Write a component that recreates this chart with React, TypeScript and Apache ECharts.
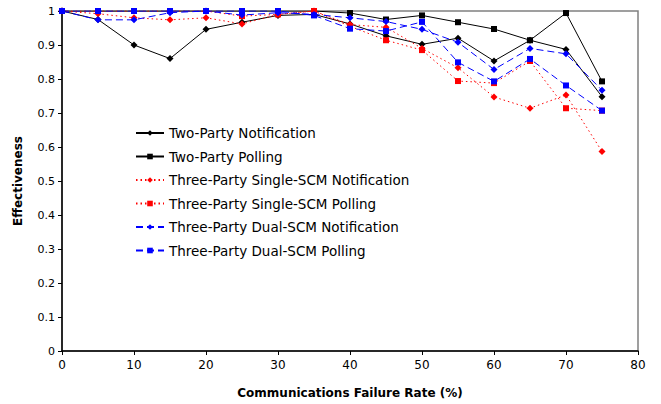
import React, { useEffect, useRef } from "react";
import * as echarts from "echarts";

const failureRates = [0, 5, 10, 15, 20, 25, 30, 35, 40, 45, 50, 55, 60, 65, 70, 75];

const twoPartyNotification = [1.0, 0.975, 0.9, 0.86, 0.946, 0.967, 0.987, 0.99, 0.962, 0.927, 0.902, 0.92, 0.853, 0.914, 0.887, 0.748];
const twoPartyPolling = [1.0, 1.0, 1.0, 1.0, 1.0, 1.0, 1.0, 1.0, 0.994, 0.975, 0.987, 0.967, 0.947, 0.914, 0.994, 0.793];
const singleScmNotification = [1.0, 0.992, 0.98, 0.974, 0.98, 0.962, 0.99, 1.0, 0.96, 0.952, 0.89, 0.833, 0.747, 0.714, 0.753, 0.587];
const singleScmPolling = [1.0, 1.0, 1.0, 1.0, 1.0, 0.985, 0.99, 1.0, 0.955, 0.914, 0.885, 0.794, 0.788, 0.853, 0.714, 0.707];
const dualScmNotification = [1.0, 0.974, 0.974, 0.995, 1.0, 0.988, 0.995, 0.99, 0.98, 0.969, 0.946, 0.908, 0.828, 0.89, 0.874, 0.767];
const dualScmPolling = [1.0, 1.0, 1.0, 1.0, 1.0, 1.0, 1.0, 0.987, 0.948, 0.941, 0.968, 0.849, 0.793, 0.859, 0.781, 0.707];

const seriesNames = [
  "Two-Party Notification",
  "Two-Party Polling",
  "Three-Party Single-SCM Notification",
  "Three-Party Single-SCM Polling",
  "Three-Party Dual-SCM Notification",
  "Three-Party Dual-SCM Polling",
];

const xTitle = "Communications Failure Rate (%)";
const yTitle = "Effectiveness";

const FONT = "'DejaVu Sans', 'Liberation Sans', Arial, sans-serif";

export default function App() {
  const ref = useRef<HTMLDivElement>(null);

  useEffect(() => {
    if (!ref.current) return;
    const chart = echarts.init(ref.current, undefined, { renderer: "svg" });
    const pairs = (vals: number[]) => failureRates.map((x, i) => [x, vals[i]]);

    const mk = (
      name: string,
      vals: number[],
      color: string,
      lineType: any,
      symbol: string,
      size: number
    ) => ({
      name,
      type: "line",
      data: pairs(vals),
      symbol,
      symbolSize: size,
      showAllSymbol: true,
      itemStyle: { color },
      lineStyle: { color, width: 1, type: lineType },
      emphasis: { disabled: true },
    });

    chart.setOption({
      animation: false,
      textStyle: { fontFamily: FONT },
      grid: {
        left: 62,
        top: 11,
        width: 576,
        height: 341,
        show: true,
        borderColor: "#808080",
        borderWidth: 1.5,
        backgroundColor: "#ffffff",
      },
      legend: {
        orient: "vertical",
        left: 130,
        top: 121,
        itemWidth: 28,
        itemHeight: 7,
        itemGap: 9.5,
        textStyle: { fontSize: 13.5, color: "#000", fontFamily: FONT },
        data: seriesNames,
      },
      xAxis: {
        type: "value",
        min: 0,
        max: 80,
        interval: 10,
        name: xTitle,
        nameLocation: "middle",
        nameGap: 36,
        nameTextStyle: { fontWeight: "bold", fontSize: 12, color: "#000", fontFamily: FONT },
        axisLine: { show: true, lineStyle: { color: "#000", width: 1.5 } },
        axisTick: { show: true, inside: false, length: 4, lineStyle: { color: "#000" } },
        axisLabel: { fontSize: 12, color: "#000", margin: 8, fontFamily: FONT },
        splitLine: { show: false },
      },
      yAxis: {
        type: "value",
        min: 0,
        max: 1,
        interval: 0.1,
        name: yTitle,
        nameLocation: "middle",
        nameGap: 38,
        nameRotate: 90,
        nameTextStyle: { fontWeight: "bold", fontSize: 12, color: "#000", fontFamily: FONT },
        axisLine: { show: true, lineStyle: { color: "#000", width: 1.5 } },
        axisTick: { show: true, inside: false, length: 4, lineStyle: { color: "#000" } },
        axisLabel: {
          fontSize: 11,
          color: "#000",
          margin: 7,
          fontFamily: FONT,
          formatter: (v: number) => (v === 0 ? "0" : v === 1 ? "1" : v.toFixed(1)),
        },
        splitLine: { show: false },
      },
      series: [
        mk(seriesNames[0], twoPartyNotification, "#000000", "solid", "diamond", 7),
        mk(seriesNames[1], twoPartyPolling, "#000000", "solid", "rect", 6),
        mk(seriesNames[2], singleScmNotification, "#ff0000", [1.5, 3], "diamond", 7),
        mk(seriesNames[3], singleScmPolling, "#ff0000", [1.5, 3], "rect", 6),
        mk(seriesNames[4], dualScmNotification, "#0000ff", [7, 4], "diamond", 7),
        mk(seriesNames[5], dualScmPolling, "#0000ff", [7, 4], "rect", 6),
      ],
    });

    return () => chart.dispose();
  }, []);

  return (
    <div
      ref={ref}
      style={{ position: "fixed", left: 0, top: 0, width: 661, height: 404, background: "#fff" }}
    />
  );
}
